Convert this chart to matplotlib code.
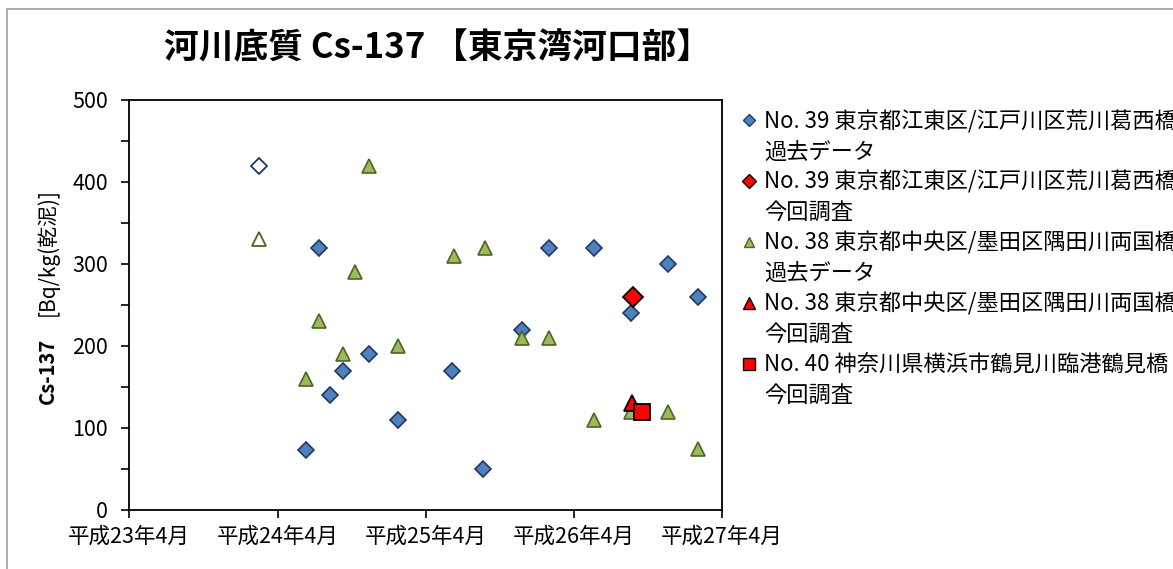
import numpy as np
import pandas as pd
import matplotlib
matplotlib.use("Agg")
import matplotlib.pyplot as plt
from matplotlib.lines import Line2D
from matplotlib.patches import Rectangle

plt.rcParams['font.family'] = ['Noto Sans CJK JP', 'DejaVu Sans']

# No.39 荒川葛西橋 past data
d39_dates = ['2012-06-11', '2012-07-11', '2012-08-08', '2012-09-10', '2012-11-12',
             '2013-01-23', '2013-06-06', '2013-08-19', '2013-11-25', '2014-01-30',
             '2014-05-21', '2014-08-21', '2014-11-19', '2015-02-02']
d39_vals = [73, 320, 140, 170, 190, 110, 170, 50, 220, 320, 320, 240, 300, 260]
d39_open_dates = ['2012-02-16']
d39_open_vals = [420]
# No.39 current
c39_dates = ['2014-08-25']
c39_vals = [260]

# No.38 隅田川両国橋 past data
d38_dates = ['2012-06-11', '2012-07-11', '2012-09-10', '2012-10-10', '2012-11-12',
             '2013-01-23', '2013-06-10', '2013-08-26', '2013-11-25', '2014-01-30',
             '2014-05-21', '2014-08-21', '2014-11-19', '2015-02-02']
d38_vals = [160, 230, 190, 290, 420, 200, 310, 320, 210, 210, 110, 120, 120, 75]
d38_open_dates = ['2012-02-16']
d38_open_vals = [330]
# No.38 current
c38_dates = ['2014-08-23']
c38_vals = [130]

# No.40 鶴見川臨港鶴見橋 current
c40_dates = ['2014-09-17']
c40_vals = [120]

xticks = ['2011-04-01', '2012-04-01', '2013-04-01', '2014-04-01', '2015-04-01']
xticklabels = ['平成23年4月', '平成24年4月', '平成25年4月', '平成26年4月', '平成27年4月']

labels = ['No. 39 東京都江東区/江戸川区荒川葛西橋', '過去データ',
          'No. 39 東京都江東区/江戸川区荒川葛西橋', '今回調査',
          'No. 38 東京都中央区/墨田区隅田川両国橋', '過去データ',
          'No. 38 東京都中央区/墨田区隅田川両国橋', '今回調査',
          'No. 40 神奈川県横浜市鶴見川臨港鶴見橋', '今回調査']

blue = '#4F81BD'
blue_edge = '#1F3864'
green = '#9BBB59'
green_edge = '#4F6228'
red = '#FF0000'

fig = plt.figure(figsize=(11.73, 5.69), dpi=100)
fig.patches.append(Rectangle((7 / 1173, -0.1), 1.2, 1 - 9 / 569 + 0.1, transform=fig.transFigure,
                             fill=False, edgecolor='#A6A6A6', linewidth=1.3))
ax = fig.add_axes([129 / 1173, 1 - 510 / 569, (722 - 129) / 1173, 410 / 569])

dt = lambda l: pd.to_datetime(l)

ax.plot(dt(d39_open_dates), d39_open_vals, ls='none', marker='D', ms=8, mfc='white', mec=blue_edge, mew=1.3)
ax.plot(dt(d38_open_dates), d38_open_vals, ls='none', marker='^', ms=10, mfc='white', mec=green_edge, mew=1.3)
ax.plot(dt(d39_dates), d39_vals, ls='none', marker='D', ms=8, mfc=blue, mec=blue_edge, mew=1.2)
ax.plot(dt(d38_dates), d38_vals, ls='none', marker='^', ms=10, mfc=green, mec=green_edge, mew=1.2)
ax.plot(dt(c39_dates), c39_vals, ls='none', marker='D', ms=10, mfc=red, mec='black', mew=1.3)
ax.plot(dt(c38_dates), c38_vals, ls='none', marker='^', ms=12, mfc=red, mec='black', mew=1.3)
ax.plot(dt(c40_dates), c40_vals, ls='none', marker='s', ms=12, mfc=red, mec='black', mew=1.3)

ax.set_xlim(dt('2011-04-01'), dt('2015-04-01'))
ax.set_ylim(0, 500)
ax.set_xticks(dt(xticks))
ax.set_xticklabels(xticklabels)
ax.set_yticks([0, 100, 200, 300, 400, 500])
ax.set_yticks([50, 150, 250, 350, 450], minor=True)
ax.tick_params(axis='both', which='both', direction='out', length=6, width=1.2, labelsize=15.5)
ax.tick_params(axis='x', pad=5)
ax.tick_params(axis='y', pad=9)
for s in ax.spines.values():
    s.set_linewidth(1.3)

fig.text(438 / 1173, 1 - 48 / 569, '河川底質 Cs-137 【東京湾河口部】', fontsize=25,
         fontweight='bold', ha='center', va='center')

fig.text(47 / 1173, 1 - 371 / 569, 'Cs-137', rotation=90, fontsize=14.5, fontweight='bold',
         ha='center', va='center')
fig.text(47 / 1173, 1 - 252 / 569, '[Bq/kg(乾泥)]', rotation=90, fontsize=15,
         ha='center', va='center')

blank = Line2D([], [], ls='none', marker='None')
handles = [
    Line2D([], [], ls='none', marker='D', ms=6, mfc=blue, mec=blue_edge, mew=1), blank,
    Line2D([], [], ls='none', marker='D', ms=7, mfc=red, mec='black', mew=1), blank,
    Line2D([], [], ls='none', marker='^', ms=7, mfc=green, mec=green_edge, mew=1), blank,
    Line2D([], [], ls='none', marker='^', ms=8, mfc=red, mec='black', mew=1), blank,
    Line2D([], [], ls='none', marker='s', ms=8, mfc=red, mec='black', mew=1), blank,
]
fig.legend(handles, labels, loc='upper left', bbox_to_anchor=(741 / 1173, 1 - 110 / 569),
           frameon=False, fontsize=16, handlelength=0.7, handletextpad=0.35,
           labelspacing=0.33, borderaxespad=0, borderpad=0)

fig.savefig('out.png', dpi=100)
